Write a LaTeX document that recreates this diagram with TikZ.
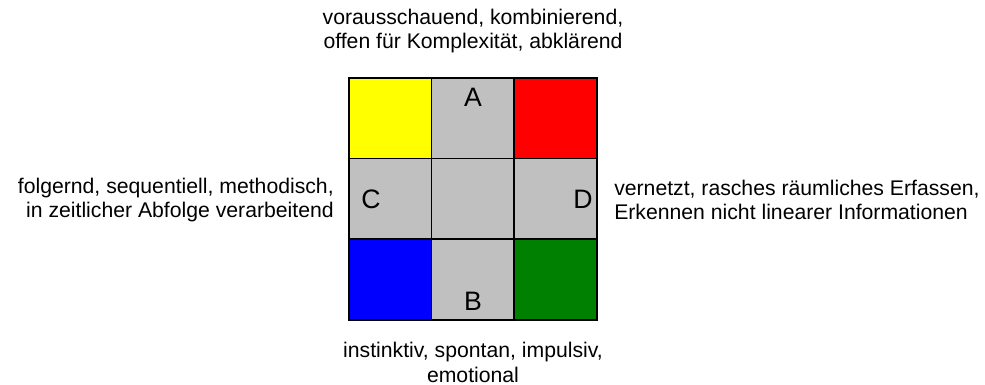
\documentclass[tikz,border=0pt]{standalone}
\usepackage{fontspec}
\setmainfont{Liberation Sans}
\usepackage{xcolor}
\definecolor{cyellow}{RGB}{255,255,0}
\definecolor{cred}{RGB}{255,0,0}
\definecolor{cblue}{RGB}{0,0,255}
\definecolor{cgreen}{RGB}{0,128,0}
\definecolor{cgray}{RGB}{192,192,192}

\begin{document}
\begin{tikzpicture}[
    x=0.75pt, y=-0.75pt,
    cell/.style={draw=black, line width=1.4pt, minimum width=62.25pt,
                 minimum height=60.75pt, inner sep=0pt},
    desc/.style={font=\fontsize{15.9}{18.2}\selectfont, inner sep=0pt},
    letter/.style={font=\fontsize{20}{20}\selectfont, inner sep=0pt},
  ]
  \useasboundingbox (0,0) rectangle (985,385);

  %% 3x3 grid
  \node[cell, fill=cyellow] (tl) at (390.3, 118.5) {};
  \node[cell, fill=cgray]   (tc) at (473, 118.5) {};
  \node[cell, fill=cred]    (tr) at (555.7, 118.5) {};
  \node[cell, fill=cgray]   (ml) at (390.3, 199) {};
  \node[cell, fill=cgray]   (mc) at (473, 199) {};
  \node[cell, fill=cgray]   (mr) at (555.7, 199) {};
  \node[cell, fill=cblue]   (bl) at (390.3, 279.5) {};
  \node[cell, fill=cgray]   (bc) at (473, 279.5) {};
  \node[cell, fill=cgreen]  (br) at (555.7, 279.5) {};

  %% Letters in the cells
  \node[letter] (la) at (473, 97)  {A};
  \node[letter] (lb) at (473, 301) {B};
  \node[letter] (lc) at (371, 199) {C};
  \node[letter] (ld) at (583, 199) {D};

  %% Descriptions
  \node[desc, align=center] (top) at (473, 31)
    {vorausschauend, kombinierend,\\offen für Komplexität, abklärend};
  \node[desc, align=center] (bottom) at (473, 362.5)
    {instinktiv, spontan, impulsiv,\\emotional};
  \node[desc, align=right, anchor=east] (left) at (334, 200)
    {folgernd, sequentiell, methodisch,\\in zeitlicher Abfolge verarbeitend};
  \node[desc, align=left, anchor=west] (right) at (614, 200)
    {vernetzt, rasches räumliches Erfassen,\\Erkennen nicht linearer Informationen};

\end{tikzpicture}
\end{document}
